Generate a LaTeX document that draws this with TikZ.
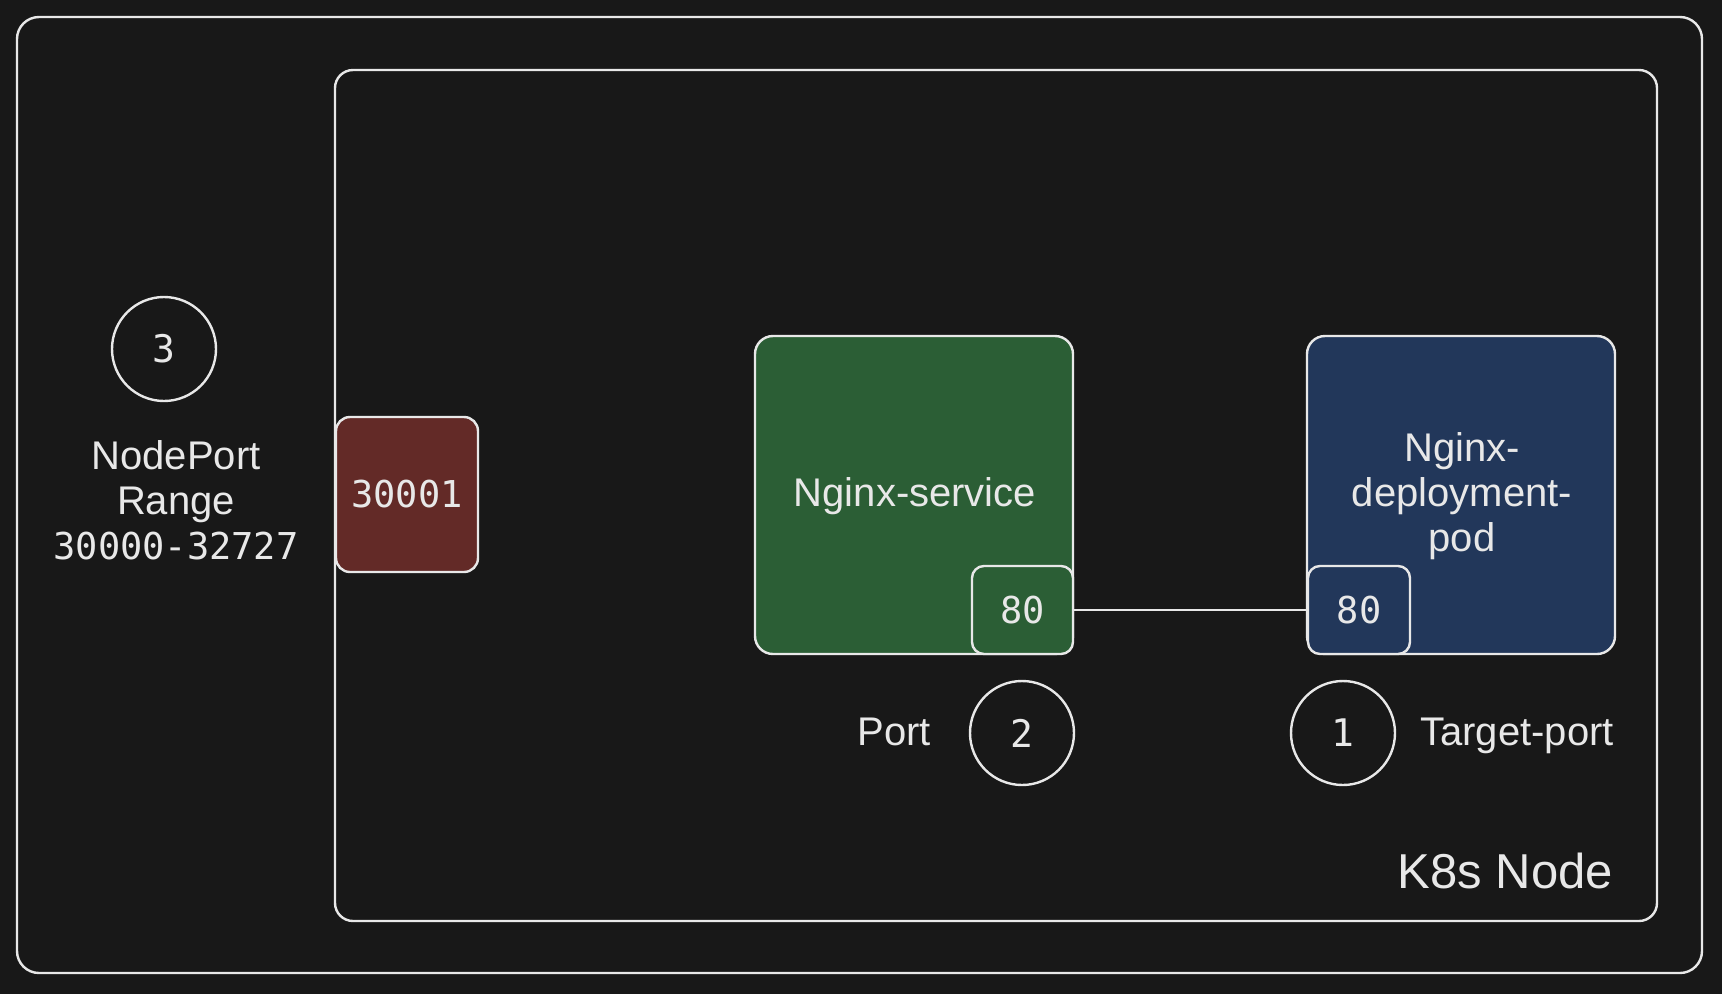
\documentclass[tikz,border=0pt]{standalone}
\usepackage{fontspec}
\setmainfont{Liberation Sans}
\newfontfamily\monofont{DejaVu Sans Mono}
\definecolor{bg}{HTML}{181818}
\definecolor{ink}{HTML}{E8E8E8}
\definecolor{gfill}{HTML}{2B5E35}
\definecolor{bfill}{HTML}{22375A}
\definecolor{rfill}{HTML}{632A27}
\tikzset{
  box/.style={draw=ink, rectangle, rounded corners=18pt, inner sep=0pt, text=ink},
  smallbox/.style={draw=ink, rectangle, rounded corners=12pt, inner sep=0pt, text=ink},
  ring/.style={draw=ink, circle, minimum size=104pt, inner sep=0pt, text=ink, font=\monofont\fontsize{38}{44}\selectfont},
  label/.style={text=ink, inner sep=0pt, align=center, font=\fontsize{40}{45}\selectfont},
  monolabel/.style={font=\monofont\fontsize{37}{44}\selectfont},
}
\begin{document}
\begin{tikzpicture}[x=1pt,y=-1pt,line width=2.4pt]
\useasboundingbox[fill=bg] (0,0) rectangle (1722,994);
% frames
\node[box, rounded corners=22pt, minimum width=1685pt, minimum height=956pt] (outer) at (859.5,495) {};
\node[box, minimum width=1322pt, minimum height=851pt] (inner) at (996,495.5) {};
% boxes
\node[box, fill=rfill, rounded corners=14pt, minimum width=142pt, minimum height=155pt, monolabel] (nodeport) at (407,494.5) {30001};
\node[box, fill=gfill, minimum width=318pt, minimum height=318pt] (svc) at (914,495) {};
\node[box, fill=bfill, minimum width=308pt, minimum height=318pt] (pod) at (1461,495) {};
\node[label] (svctext) at (915,496) {Nginx-service};
\node[label] (podtext) at (1462,496) {Nginx-\\deployment-\\pod};
\node[smallbox, fill=gfill, minimum width=101pt, minimum height=88pt, monolabel] (g80) at (1022.5,610) {80};
\node[smallbox, fill=bfill, minimum width=102pt, minimum height=88pt, monolabel] (b80) at (1359,610) {80};
\draw[ink] (g80.east) -- (b80.west);
% circles
\node[ring] (c3) at (164,349) {3};
\node[ring] (c2) at (1022,733) {2};
\node[ring] (c1) at (1343,733) {1};
% labels
\node[label, font=\fontsize{40}{45}\selectfont] (range) at (176,500) {NodePort\\Range\\{\monofont\fontsize{37}{45}\selectfont 30000-32727}};
\node[label, anchor=base] (port) at (894,745) {Port};
\node[label, anchor=base] (tport) at (1517,745) {Target-port};
\node[label, anchor=base east, font=\fontsize{49}{55}\selectfont] (k8s) at (1614,888) {K8s Node};
\end{tikzpicture}
\end{document}
